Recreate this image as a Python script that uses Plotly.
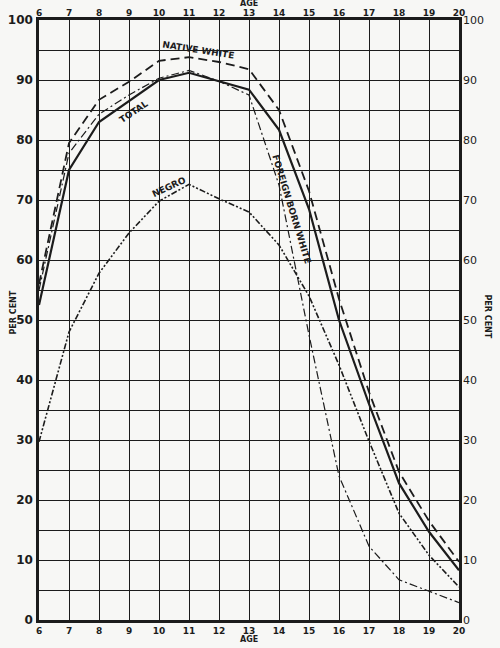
import plotly.graph_objects as go

ages = [6, 7, 8, 9, 10, 11, 12, 13, 14, 15, 16, 17, 18, 19, 20]
total = [52.5, 75, 83, 86.5, 90, 91.2, 89.8, 88.4, 81.7, 68.5, 50, 36, 22.8, 14.7, 8.3]
native_white = [56, 79.5, 86.7, 89.7, 93.2, 93.8, 93, 91.8, 85, 71.5, 53.5, 38, 24.7, 16.5, 9.7]
foreign_white = [55, 77.8, 84.3, 87.5, 90.3, 91.6, 89.8, 87.5, 72.5, 47.5, 24, 12.3, 6.7, 4.8, 2.9]
negro = [29.7, 48, 57.8, 64.5, 69.8, 72.6, 70.2, 68, 62.5, 54, 42.5, 29.8, 17.8, 10.8, 5.5]

x_ticks = list(range(6, 21))
y_ticks = list(range(0, 101, 10))

ink = "#1c1c1c"
fig = go.Figure()
fig.add_trace(go.Scatter(x=ages, y=total, mode="lines", name="TOTAL",
                         line=dict(color=ink, width=2.2)))
fig.add_trace(go.Scatter(x=ages, y=native_white, mode="lines", name="NATIVE WHITE",
                         line=dict(color=ink, width=1.8, dash="9px,5px")))
fig.add_trace(go.Scatter(x=ages, y=foreign_white, mode="lines", name="FOREIGN BORN WHITE",
                         line=dict(color=ink, width=1.2, dash="8px,3px,2px,3px")))
fig.add_trace(go.Scatter(x=ages, y=negro, mode="lines", name="NEGRO",
                         line=dict(color=ink, width=1.6, dash="6px,2px,2px,2px,2px,2px")))
# invisible trace for the mirrored top/right axes
fig.add_trace(go.Scatter(x=[6, 20], y=[0, 100], mode="markers", xaxis="x2", yaxis="y2",
                         marker=dict(opacity=0), hoverinfo="skip", showlegend=False))

xfont = dict(family="DejaVu Sans", size=9, color=ink, weight="bold")
fig.update_layout(
    width=500, height=648,
    margin=dict(l=39, r=41, t=20, b=28),
    paper_bgcolor="#f7f7f5", plot_bgcolor="#f7f7f5",
    showlegend=False,
    xaxis=dict(range=[6, 20], tickvals=x_ticks, ticks="", showgrid=True, automargin=False,
               gridcolor=ink, gridwidth=1.3, zeroline=False, showline=True,
               linecolor=ink, linewidth=2.5, mirror=True, tickfont=xfont,
               ticklabelstandoff=0),
    yaxis=dict(range=[0, 100], tickvals=y_ticks, ticks="", showgrid=True, automargin=False,
               gridcolor=ink, gridwidth=1.3, zeroline=False, showline=True,
               linecolor=ink, linewidth=2.5, mirror=True,
               tickfont=dict(family="DejaVu Sans", size=12, color=ink, weight="bold"),
               ticklabelstandoff=1,
               minor=dict(dtick=5, showgrid=True, gridcolor=ink, gridwidth=1.3)),
    xaxis2=dict(range=[6, 20], tickvals=x_ticks, overlaying="x", side="top", ticks="",
                showgrid=False, zeroline=False, automargin=False, tickfont=xfont,
                ticklabelstandoff=1),
    yaxis2=dict(range=[0, 100], tickvals=y_ticks, overlaying="y", side="right", ticks="",
                showgrid=False, zeroline=False, automargin=False,
                tickfont=dict(family="DejaVu Sans", size=11, color=ink),
                ticklabelstandoff=3),
)

titlefont = dict(family="DejaVu Sans", size=8, color=ink, weight="bold")
fig.add_annotation(xref="paper", yref="paper", x=0.5, y=1, yshift=10, yanchor="bottom",
                   text="AGE", showarrow=False, font=titlefont)
fig.add_annotation(xref="paper", yref="paper", x=0.5, y=0, yshift=-13, yanchor="top",
                   text="AGE", showarrow=False, font=titlefont)
fig.add_annotation(xref="paper", yref="paper", x=0, y=0.5, xshift=-33, yshift=7, text="PER CENT",
                   showarrow=False, textangle=-90, font=titlefont)
fig.add_annotation(xref="paper", yref="paper", x=1, y=0.5, xshift=35, yshift=4, text="PER CENT",
                   showarrow=False, textangle=90, font=titlefont)

labfont = dict(family="DejaVu Sans", size=9, color=ink, weight="bold")
fig.add_annotation(x=11.3, y=95.0, text="NATIVE WHITE", showarrow=False, textangle=9, font=labfont)
fig.add_annotation(x=9.15, y=84.6, text="TOTAL", showarrow=False, textangle=-34, font=labfont)
fig.add_annotation(x=10.33, y=72.2, text="NEGRO", showarrow=False, textangle=-25, font=labfont)
fig.add_annotation(x=14.42, y=68.5, text="FOREIGN BORN WHITE", showarrow=False, textangle=73, font=labfont)

fig.write_html("out.html")
